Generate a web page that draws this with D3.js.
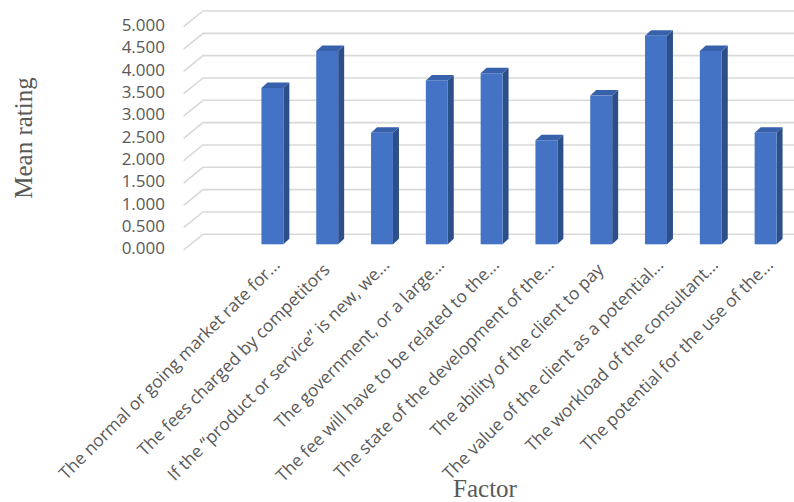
<!DOCTYPE html>
<html>
<head>
<meta charset="utf-8">
<script src="https://cdn.jsdelivr.net/npm/d3@7"></script>
<style>
  html, body { margin: 0; padding: 0; background: #fff; }
  svg { display: block; }
</style>
</head>
<body>
<svg id="chart" width="794" height="502"></svg>
<script>
// Factors and their mean ratings
const categories = [
  "The normal or going market rate for...",
  "The fees charged by competitors",
  "If the \u201Cproduct or service\u201D is new, we...",
  "The government, or a large...",
  "The fee will have to be related to the...",
  "The state of the development of the...",
  "The ability of the client to pay",
  "The value of the client as a potential...",
  "The workload of the consultant...",
  "The potential for the use of the..."
];
const meanRatings = [3.50, 4.33, 2.50, 3.67, 3.83, 2.33, 3.33, 4.67, 4.33, 2.50];
const yTicks = [0, 0.5, 1, 1.5, 2, 2.5, 3, 3.5, 4, 4.5, 5];

const svg = d3.select("#chart");
const textColor = "#595959";
const gridColor = "#d9d9d9";

// Oblique 3D projection: back wall, floor front edge, bar front plane
const wallLeft = 203, wallRight = 794;
const floorDx = -19.4, floorDy = 15.7;
const yWall = d3.scaleLinear().domain([0, 5]).range([234.3, 11]);
const yBar = d3.scaleLinear().domain([0, 5]).range([244.3, 21]);
const x = d3.scaleBand().domain(categories).range([245, 793])
  .paddingInner(0.6).paddingOuter(0.3);
const depthDx = 6, depthDy = -5.5;

// Gridlines on the back wall with the side-wall diagonal
const grid = svg.append("g");
yTicks.forEach(t => {
  const yy = yWall(t);
  grid.append("path")
    .attr("d", `M${wallLeft + floorDx},${yy + floorDy}L${wallLeft},${yy}L${wallRight},${yy}`)
    .attr("fill", "none")
    .attr("stroke", gridColor)
    .attr("stroke-width", 1.6);
});

// Value labels
svg.append("g").selectAll("text").data(yTicks).join("text")
  .attr("x", 165)
  .attr("y", d => yWall(d) + 14)
  .attr("dy", "0.35em")
  .attr("text-anchor", "end")
  .attr("font-family", "'Open Sans', sans-serif")
  .attr("font-size", 17)
  .attr("fill", textColor)
  .text(d => d3.format(".3f")(d));

// 3D columns: side, top, front
const bars = svg.append("g").selectAll("g").data(categories).join("g");
const bw = x.bandwidth();
bars.append("path")
  .attr("fill", "#2c4f8a")
  .attr("d", (c, i) => {
    const x1 = x(c) + bw, yt = yBar(meanRatings[i]), yb = yBar(0);
    return `M${x1},${yb}L${x1},${yt}L${x1 + depthDx},${yt + depthDy}L${x1 + depthDx},${yb + depthDy}Z`;
  });
bars.append("path")
  .attr("fill", "#3761ab")
  .attr("d", (c, i) => {
    const x0 = x(c), x1 = x0 + bw, yt = yBar(meanRatings[i]);
    return `M${x0},${yt}L${x0 + depthDx},${yt + depthDy}L${x1 + depthDx},${yt + depthDy}L${x1},${yt}Z`;
  });
bars.append("rect")
  .attr("fill", "#4472c4")
  .attr("x", c => x(c))
  .attr("width", bw)
  .attr("y", (c, i) => yBar(meanRatings[i]))
  .attr("height", (c, i) => yBar(0) - yBar(meanRatings[i]));

// Category labels, rotated; full (untruncated) labels sit a little lower
svg.append("g").selectAll("text").data(categories).join("text")
  .attr("transform", c => `translate(${x(c) + bw / 2 + 8.5},266) rotate(-45)`)
  .attr("dx", c => c.endsWith("...") ? 0 : -7)
  .attr("text-anchor", "end")
  .attr("font-family", "'Open Sans', sans-serif")
  .attr("font-size", 17.3)
  .attr("fill", textColor)
  .text(c => c);

// Axis titles
svg.append("text")
  .attr("transform", "translate(32,138) rotate(-90)")
  .attr("text-anchor", "middle")
  .attr("font-family", "'Liberation Serif', 'Times New Roman', serif")
  .attr("font-size", 25)
  .attr("fill", textColor)
  .text("Mean rating");

svg.append("text")
  .attr("x", 485)
  .attr("y", 497)
  .attr("text-anchor", "middle")
  .attr("font-family", "'Liberation Serif', 'Times New Roman', serif")
  .attr("font-size", 25)
  .attr("fill", textColor)
  .text("Factor");
</script>
</body>
</html>
